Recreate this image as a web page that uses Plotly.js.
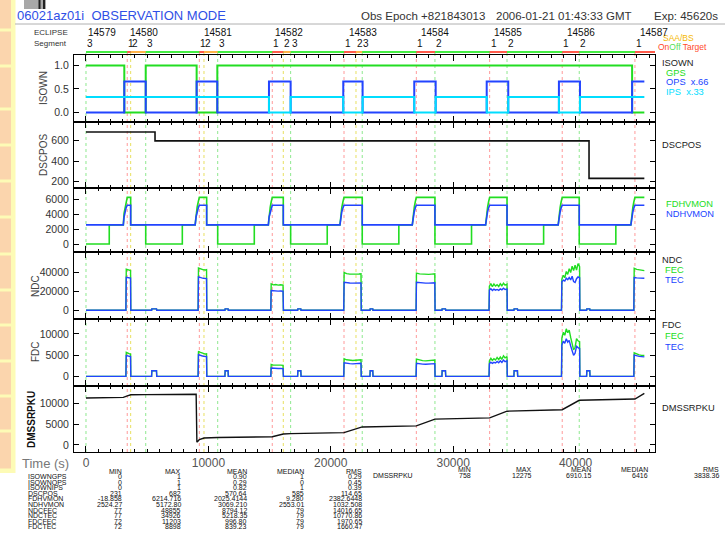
<!DOCTYPE html>
<html><head><meta charset="utf-8">
<script src="https://cdn.plot.ly/plotly-3.0.1.min.js"></script>
<style>html,body{margin:0;padding:0;background:#fff}#chart{width:725px;height:536px}</style>
</head><body><div id="chart"></div>
<script>
// ================= DATA =================
const xRange = [-980, 46490];
const expEnd = 45620;

// event times (s)
const redT = [3370, 9260, 15220, 21080, 26990, 32980, 38910, 44850];
const yellowT = [3650, 9640, 16120, 22060];
const greenT = [0, 4880, 10760, 16720, 22570, 28510, 34400, 40300];

const orbitNums = ['14579','14580','14581','14582','14583','14584','14585','14586','14587'];
const orbitLabelT = [80, 3540, 9560, 15360, 21400, 27290, 33250, 39220, 45150];
const segT = [0, 3370, 3650, 4880, 9260, 9640, 10760, 15220, 16120, 16720, 21080, 22060, 22570, 26990, 28510, 32980, 34400, 38910, 40300, 44850];
const segTxt = ['3','1','2','3','1','2','3','1','2','3','1','2','3','1','2','1','2','1','2','1'];

// ISOWN
const isoT = [0, 3130, 4880, 9040, 10730, 14950, 16720, 21020, 22600, 26820, 28570, 32740, 34500, 38640, 40360, 44620, 45620];
const gps  = [1, 0, 1, 0, 1, 1, 1, 1, 1, 1, 1, 1, 1, 1, 1, 0, 0];
const ops  = [0, 1, 0, 1, 0, 1, 0, 1, 0, 1, 0, 1, 0, 1, 0, 1, 1];
const ips  = [1, 1, 1, 1, 1, 0, 1, 0, 1, 0, 1, 0, 1, 0, 1, 1, 1];

// DSCPOS
const dscT = [0, 5640, 5640, 41100, 41100, 45620];
const dscV = [682, 682, 596, 596, 231, 231];

// FDHVMON
const fdhvT = [0,1900,1900,3050,3110,3190,3270,3370,3650,3650,4880,4880,
  7870,7870,8920,8990,9080,9170,9260,9860,9860,10760,10760,
  13750,13750,14900,14960,15050,15130,15220,16120,16120,16720,16720,
  19710,19710,20750,20820,20900,20990,21080,22570,22570,
  25560,25560,26660,26730,26820,26900,26990,28510,28510,
  31500,31500,32650,32720,32810,32890,32980,34400,34400,
  37390,37390,38580,38650,38740,38820,38910,40300,40300,
  43290,43290,44520,44590,44680,44760,44850,45620];
const fdhvV = [0,0,2553,2553,4100,4900,5600,6214,6214,2553,2553,0,
  0,2553,2553,4000,4900,5600,6214,6214,2553,2553,0,
  0,2553,2553,4000,4900,5600,6214,6214,2553,2553,0,
  0,2553,2553,4000,4900,5600,6214,6214,0,
  0,2553,2553,4000,4900,5600,6214,6214,0,
  0,2553,2553,4000,4900,5600,6214,6214,0,
  0,2553,2553,4000,4900,5600,6214,6214,0,
  0,2553,2553,4000,4900,5600,6214,6214];
// NDHVMON
const ndhvT = [0,3050,3110,3190,3270,3370,3650,3650,
  8920,8990,9080,9170,9260,9860,9860,
  14900,14960,15050,15130,15220,16120,16120,
  20750,20820,20900,20990,21080,22570,22570,
  26660,26730,26820,26900,26990,28510,28510,
  32650,32720,32810,32890,32980,34400,34400,
  38580,38650,38740,38820,38910,40300,40300,
  44520,44590,44680,44760,44850,45620];
const ndhvV = [2553,2553,3600,4300,4800,5172,5172,2553,
  2553,3600,4300,4800,5172,5172,2553,
  2553,3600,4300,4800,5172,5172,2553,
  2553,3600,4300,4800,5172,5172,2553,
  2553,3600,4300,4800,5172,5172,2553,
  2553,3600,4300,4800,5172,5172,2553,
  2553,3600,4300,4800,5172,5172,2553,
  2553,3600,4300,4800,5172,5172];

// NDC / FDC common time base
const cT = [0,3260,3290,3400,3520,3640,3660,
  5360,5380,5760,5780,
  9160,9190,9300,9450,9600,9750,9850,9870,
  11350,11370,11610,11630,
  15100,15130,15300,15500,15700,15900,16100,16130,
  17290,17310,17550,17570,
  21060,21090,21300,21550,21800,22050,22300,22470,22490,
  23200,23220,23430,23450,
  26970,27000,27250,27500,27750,28000,28250,28500,28520,
  29080,29100,29370,29390,
  32930,32960,33080,33200,33330,33460,33590,33720,33850,33980,34110,34240,34400,34420,
  34960,34980,35250,35270,
  38850,38880,39000,39120,39240,39360,39480,39600,39720,39840,39960,40080,40200,40330,40350,
  40900,40920,41160,41180,
  44760,44790,45000,45200,45400,45620];
const ndcFec = [79,79,43000,42300,41900,41600,79,
  79,1500,1500,79,
  79,44200,43600,42800,42300,42100,42400,79,
  79,1500,1500,79,
  79,27600,26600,26900,26300,26700,26400,79,
  79,1500,1500,79,
  79,39500,38300,37800,37600,37700,37900,38100,79,
  79,1500,1500,79,
  79,38800,38000,37600,37400,37500,37800,38100,79,
  79,1500,1500,79,
  79,25200,27900,24600,27400,25300,26800,24900,27700,25600,28300,26200,27300,79,
  79,1500,1500,79,
  79,32500,36500,34000,40500,37500,43500,39500,46000,41500,47000,42000,48855,45500,79,
  79,1500,1500,79,
  79,43800,42800,42100,41700,41400];
const ndcTec = [79,79,34500,34100,33900,33700,79,
  79,1500,1500,79,
  79,34926,34300,33800,33500,33300,33100,79,
  79,1500,1500,79,
  79,20600,20300,20200,20000,20100,19900,79,
  79,1500,1500,79,
  79,29200,28700,28500,28400,28400,28500,28600,79,
  79,1500,1500,79,
  79,29300,28800,28600,28400,28400,28600,28800,79,
  79,1500,1500,79,
  79,21200,22600,20700,22100,21000,21800,20900,22300,21400,23000,21700,22200,79,
  79,1500,1500,79,
  79,29800,31500,30500,33500,32000,34200,31800,35500,30000,29000,33000,34800,34000,79,
  79,1500,1500,79,
  79,34200,33900,33700,33600,33500];
const fdcFec = [79,79,5700,5500,5400,5300,79,
  79,1400,1400,79,
  79,5950,5750,5550,5400,5300,5350,79,
  79,1400,1400,79,
  79,2850,2700,2750,2650,2700,2650,79,
  79,1400,1400,79,
  79,4200,3950,3850,3800,3850,3900,3950,79,
  79,1400,1400,79,
  79,4100,3850,3750,3700,3750,3800,3900,79,
  79,1400,1400,79,
  79,3700,4300,3800,4200,3900,4500,4000,4600,4100,4900,4400,4700,79,
  79,1400,1400,79,
  79,9000,10400,9700,11203,10300,10900,9200,7600,6300,6900,8900,8400,8200,79,
  79,1400,1400,79,
  79,5600,5300,5100,5000,4950];
const fdcTec = [79,79,4950,4850,4750,4700,79,
  79,1400,1400,79,
  79,5150,5000,4900,4800,4750,4700,79,
  79,1400,1400,79,
  79,2050,1980,1950,1920,1950,1900,79,
  79,1400,1400,79,
  79,3250,3100,3050,3000,3050,3100,3150,79,
  79,1400,1400,79,
  79,3150,3000,2950,2900,2950,3000,3050,79,
  79,1400,1400,79,
  79,3000,3400,3100,3350,3200,3550,3250,3700,3350,3900,3500,3700,79,
  79,1400,1400,79,
  79,7400,8300,7800,8898,8100,8500,7200,6000,5000,5500,7100,6800,6600,79,
  79,1400,1400,79,
  79,5050,4850,4750,4700,4650];

// DMSSRPKU
const dmssT = [0,3050,3380,3660,4880,9000,9060,9110,9260,9650,10760,15220,16120,16720,21080,22570,26990,28510,32980,34400,38910,40300,44850,45620];
const dmssV = [11200,11350,11700,11950,12000,12100,800,758,1300,1650,1800,1950,2600,2700,2950,4300,4550,6150,6450,8050,8400,10650,10950,12275];

// tick values
const xTicks = [0,10000,20000,30000,40000];
const isoTicks = [0,0.5,1], isoTickTxt = ['0.0','0.5','1.0'];
const dscTicks = [200,400,600];
const hvTicks = [0,2000,4000,6000];
const ndcTicks = [0,20000,40000];
const fdcTicks = [0,5000,10000];
const dmTicks = [0,5000,10000];

// statistics table
const statNames = ['ISOWNGPS','ISOWNOPS','ISOWNIPS','DSCPOS','FDHVMON','NDHVMON','NDCFEC','NDCTEC','FDCFEC','FDCTEC'];
const statMin = ['0','0','0','231','-18.858','2524.27','77','77','72','72'];
const statMax = ['1','1','1','682','6214.716','5172.80','48855','34926','11203','8898'];
const statMean = ['0.90','0.29','0.82','570.64','2025.4144','3069.210','8794.12','5218.35','996.80','839.23'];
const statMedian = ['1','0','1','585','9.280','2553.01','79','79','79','79'];
const statRms = ['0.29','0.45','0.39','114.65','2382.6448','1032.508','14016.65','10770.86','1970.65','1660.47'];
const statHead = ['MIN','MAX','MEAN','MEDIAN','RMS'];
const dmStat = ['758','12275','6910.15','6416','3838.36'];

// ================= LAYOUT =================
const W=725,H=536,L=74,R=70,T=50,B=84;
const pw=W-L-R, ph=H-T-B;
const PX = p => (p-L)/pw;
const PY = p => (H-B-p)/ph;

const GREEN='#22dd22', BLUE='#2244ff', CYAN='#00ddff';
const FONT='Liberation Sans, Arial, sans-serif';

const traces = [];
const line = (x,y,xa,ya,color,width,shape) => ({type:'scatter',mode:'lines',x:x,y:y,xaxis:xa,yaxis:ya,
  line:{color:color,width:width,shape:shape||'linear'},hoverinfo:'skip',showlegend:false});

// strip bar
traces.push(line([0,xRange[1]],[0.5,0.5],'x7','y7','#44ee44',2));
const rx=[], ry=[], ox=[], oy=[];
redT.forEach((r,i)=>{
  const endG = (i+1<greenT.length)?greenT[i+1]:xRange[1];
  if(i<yellowT.length){
    rx.push(r,yellowT[i],null); ry.push(0.5,0.5,null);
    ox.push(yellowT[i],endG,null); oy.push(0.5,0.5,null);
  } else { rx.push(r,endG,null); ry.push(0.5,0.5,null); }
});
traces.push(line(ox,oy,'x7','y7','#ffb347',2));
traces.push(line(rx,ry,'x7','y7','#ff5a4a',2));

// ISOWN
traces.push(line(isoT,gps,'x','y',GREEN,2,'hv'));
traces.push(line(isoT,ops.map(v=>v*0.66),'x','y',BLUE,2,'hv'));
traces.push(line(isoT,ips.map(v=>v*0.33),'x','y',CYAN,2,'hv'));
// DSCPOS
traces.push(line(dscT,dscV,'x2','y2','#111',1.6));
// HV
traces.push(line(fdhvT,fdhvV,'x3','y3',GREEN,1.6));
traces.push(line(ndhvT,ndhvV,'x3','y3',BLUE,1.6));
// NDC
traces.push(line(cT,ndcFec,'x4','y4',GREEN,1.4));
traces.push(line(cT,ndcTec,'x4','y4',BLUE,1.4));
// FDC
traces.push(line(cT,fdcFec,'x5','y5',GREEN,1.4));
traces.push(line(cT,fdcTec,'x5','y5',BLUE,1.4));
// DMSS
traces.push(line(dmssT,dmssV,'x6','y6','#111',1.4));

const txt = a => a.map(v=>String(v));
const xBase = {range:xRange, showline:true, linecolor:'#000', linewidth:1, mirror:'ticks',
  ticks:'inside', ticklen:6, tickcolor:'#000', tickvals:xTicks, ticktext:txt(xTicks), showgrid:false, zeroline:false,
  minor:{ticks:'inside', ticklen:3, dtick:1000, tick0:0, tickcolor:'#000', showgrid:false},
  showticklabels:false, fixedrange:true};
const yBase = {showline:true, linecolor:'#000', linewidth:1, mirror:'ticks', ticks:'inside',
  ticklen:5, tickcolor:'#000', showgrid:false, zeroline:false, ticklabelstandoff:2,
  tickfont:{family:FONT,size:10.5,color:'#333'}, fixedrange:true};

const doms = [[PY(122),PY(55)],[PY(188),PY(122)],[PY(252),PY(188)],[PY(319),PY(252)],[PY(386),PY(319)],[0,PY(386)]];

const layout = {
  width:W, height:H, margin:{l:L,r:R,t:T,b:B,pad:0},
  paper_bgcolor:'#fff', plot_bgcolor:'rgba(0,0,0,0)', showlegend:false,
  font:{family:FONT,color:'#222'},
  xaxis: Object.assign({},xBase,{anchor:'y'}),
  xaxis2: Object.assign({},xBase,{anchor:'y2'}),
  xaxis3: Object.assign({},xBase,{anchor:'y3'}),
  xaxis4: Object.assign({},xBase,{anchor:'y4'}),
  xaxis5: Object.assign({},xBase,{anchor:'y5'}),
  xaxis6: Object.assign({},xBase,{anchor:'y6',showticklabels:true,
    tickfont:{family:FONT,size:12,color:'#555'}, ticklabelstandoff:0}),
  xaxis7: {range:xRange, anchor:'y7', visible:false, fixedrange:true},
  yaxis: Object.assign({},yBase,{domain:doms[0],range:[-0.2,1.22],tickvals:isoTicks,ticktext:isoTickTxt}),
  yaxis2: Object.assign({},yBase,{domain:doms[1],range:[137,780],tickvals:dscTicks,ticktext:txt(dscTicks)}),
  yaxis3: Object.assign({},yBase,{domain:doms[2],range:[-1067,7467],tickvals:hvTicks,ticktext:txt(hvTicks)}),
  yaxis4: Object.assign({},yBase,{domain:doms[3],range:[-9090,60900],tickvals:ndcTicks,ticktext:txt(ndcTicks)}),
  yaxis5: Object.assign({},yBase,{domain:doms[4],range:[-2180,13510],tickvals:fdcTicks,ticktext:txt(fdcTicks)}),
  yaxis6: Object.assign({},yBase,{domain:doms[5],range:[-1670,14050],tickvals:dmTicks,ticktext:txt(dmTicks)}),
  yaxis7: {domain:[PY(54),PY(50)], range:[0,1], visible:false, fixedrange:true},
  shapes:[], annotations:[]
};

// dotted event lines
const vline = (t,color) => ({type:'line',xref:'x',yref:'paper',x0:t,x1:t,y0:0,y1:PY(52.5),
  line:{color:color,width:1,dash:'dot'},layer:'below'});
greenT.forEach(t=>layout.shapes.push(vline(t,'#8fe88f')));
redT.forEach(t=>layout.shapes.push(vline(t,'#ff9a9a')));
yellowT.forEach(t=>layout.shapes.push(vline(t,'#e8e060')));

// left decoration strip
const rectPx = (x0,y0,x1,y1,fill) => ({type:'rect',xref:'paper',yref:'paper',x0:PX(x0),x1:PX(x1),y0:PY(y1),y1:PY(y0),
  fillcolor:fill,line:{width:0},layer:'below'});
layout.shapes.push(rectPx(0,0,15.5,473,'#fdfbb6'));
const boxEdges = [0,30,66,109,145,181,217,254,290,325,361,396,431,470];
for(let i=0;i<boxEdges.length-1;i++){
  layout.shapes.push(rectPx(0,boxEdges[i]+(i?1.5:0),11,boxEdges[i+1]-1.5,'#fbd5ad'));
}
// logo
layout.shapes.push(rectPx(24,0,46,9,'#a8a8a8'));
layout.shapes.push(rectPx(38.5,0,40.5,9,'#222'));
layout.shapes.push(rectPx(43,0,45,9,'#222'));
// title underline
layout.shapes.push({type:'line',xref:'paper',yref:'paper',x0:PX(15),x1:PX(725),y0:PY(24),y1:PY(24),line:{color:'#b0b0b0',width:1}});

const ann = (txt,px,py,opt) => layout.annotations.push(Object.assign({text:txt,xref:'paper',yref:'paper',
  x:PX(px),y:PY(py),xanchor:'left',yanchor:'middle',showarrow:false,borderpad:0,
  font:{family:FONT,size:10,color:'#222'}},opt||{}));

ann('06021az01i  OBSERVATION MODE',16,15,{font:{family:FONT,size:13,color:'#2f4fe6'}});
ann('Obs Epoch +821843013',360,16,{font:{family:FONT,size:11.5,color:'#333'}});
ann('2006-01-21 01:43:33 GMT',495,16,{font:{family:FONT,size:11.5,color:'#333'}});
ann('Exp: 45620s',719,16,{xanchor:'right',font:{family:FONT,size:11.5,color:'#333'}});
ann('ECLIPSE',33,33,{font:{family:FONT,size:8,color:'#333'}});
ann('Segment',33,44,{font:{family:FONT,size:8,color:'#333'}});
ann('SAA/BS',662,38,{font:{family:FONT,size:8.5,color:'#f5b800'}});
ann('<span style="color:#ff4a2a">On</span><span style="color:#55e055">Off</span><span style="color:#ff4a2a"> Target</span>',657,47,{font:{family:FONT,size:8.5,color:'#ff4a2a'}});

orbitNums.forEach((n,i)=>layout.annotations.push({text:n,xref:'x',yref:'paper',x:orbitLabelT[i],y:PY(33),
  xanchor:'left',yanchor:'middle',showarrow:false,borderpad:0,font:{family:FONT,size:10,color:'#111'}}));
segT.forEach((t,i)=>layout.annotations.push({text:segTxt[i],xref:'x',yref:'paper',x:t,y:PY(44),
  xanchor:'left',yanchor:'middle',showarrow:false,borderpad:0,font:{family:FONT,size:10,color:'#111'}}));

// y titles
const ytitle = (txt,px,py,bold) => ann(bold?'<b>'+txt+'</b>':txt,px,py,{xanchor:'center',textangle:-90,
  font:{family:FONT,size:10,color:bold?'#111':'#444'}});
ytitle('ISOWN',43,88); ytitle('DSCPOS',43,155); ytitle('NDC',35,286); ytitle('FDC',35,352); ytitle('DMSSRPKU',31,420,true);

// right legends
const rs = 9.3;
ann('ISOWN',661,63,{font:{family:FONT,size:rs,color:'#222'}});
ann('GPS',665,73,{font:{family:FONT,size:rs,color:GREEN}});
ann('OPS  x.66',665,82,{font:{family:FONT,size:rs,color:BLUE}});
ann('IPS  x.33',665,92,{font:{family:FONT,size:rs,color:CYAN}});
ann('DSCPOS',661,145,{font:{family:FONT,size:rs,color:'#222'}});
ann('FDHVMON',665,204,{font:{family:FONT,size:rs,color:GREEN}});
ann('NDHVMON',665,214,{font:{family:FONT,size:rs,color:BLUE}});
ann('NDC',661,260,{font:{family:FONT,size:rs,color:'#222'}});
ann('FEC',664,270,{font:{family:FONT,size:rs,color:GREEN}});
ann('TEC',664,280,{font:{family:FONT,size:rs,color:BLUE}});
ann('FDC',661,325,{font:{family:FONT,size:rs,color:'#222'}});
ann('FEC',664,336,{font:{family:FONT,size:rs,color:GREEN}});
ann('TEC',664,346.5,{font:{family:FONT,size:rs,color:BLUE}});
ann('DMSSRPKU',661,408,{font:{family:FONT,size:rs,color:'#222'}});

ann('Time (s)',21,463,{font:{family:FONT,size:13,color:'#777'}});

// statistics table
const tf = {family:'Liberation Sans Narrow, Liberation Sans, sans-serif',size:7,color:'#111'};
const colX = [123,182,248,305,363];
statHead.forEach((h,j)=>ann(h,colX[j],471.5,{xanchor:'right',font:tf}));
const cols = [statMin,statMax,statMean,statMedian,statRms];
statNames.forEach((n,i)=>{
  const py = 476.5 + i*5.6;
  ann(n,27,py,{font:tf});
  cols.forEach((c,j)=>ann(c[i],colX[j],py,{xanchor:'right',font:tf}));
});
const colX2 = [472,533,592,649,720];
ann('DMSSRPKU',372,475.5,{font:tf});
statHead.forEach((h,j)=>ann(h,colX2[j],469.5,{xanchor:'right',font:tf}));
dmStat.forEach((v,j)=>ann(v,colX2[j],475.5,{xanchor:'right',font:tf}));

Plotly.newPlot('chart',traces,layout,{staticPlot:true,displayModeBar:false});
</script></body></html>
